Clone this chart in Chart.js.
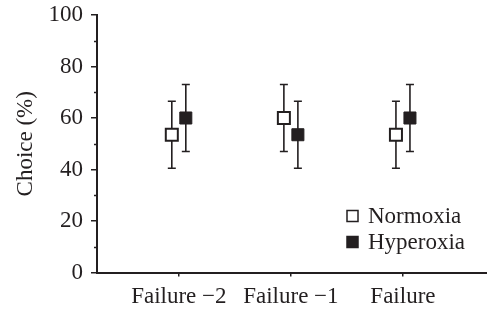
<!DOCTYPE html>
<html>
<head>
<meta charset="utf-8">
<script src="https://cdn.jsdelivr.net/npm/chart.js@4/dist/chart.umd.min.js"></script>
<style>
  html, body { margin: 0; padding: 0; background: #fff; }
  #wrap { width: 487px; height: 312px; }
</style>
</head>
<body>
<div id="wrap"><canvas id="choiceChart"></canvas></div>
<script>
// values
var categories = ['Failure \u22122', 'Failure \u22121', 'Failure'];
var normoxia = [53.5, 60, 53.5];
var normoxiaLow = [40.5, 47, 40.5];
var normoxiaHigh = [66.5, 73, 66.5];
var hyperoxia = [60, 53.5, 60];
var hyperoxiaLow = [47, 40.5, 47];
var hyperoxiaHigh = [73, 66.5, 73];
var yTicks = [0, 20, 40, 60, 80, 100];
var yMinorTicks = [10, 30, 50, 70, 90];

var ink = '#231f20';
var serif = "'Liberation Serif', 'DejaVu Serif', serif";
var shift = 0.0625; // side-by-side offset of the two groups

function points(vals, lo, hi, dx) {
    return vals.map(function (v, i) {
        return { x: i + 1 + dx, y: v, lo: lo[i], hi: hi[i] };
    });
}

var errorBars = {
    id: 'errorBars',
    beforeDatasetsDraw: function (chart) {
        var ctx = chart.ctx, xs = chart.scales.x, ys = chart.scales.y;
        ctx.save();
        ctx.strokeStyle = ink;
        ctx.lineWidth = 1.6;
        chart.data.datasets.forEach(function (ds) {
            ds.data.forEach(function (p) {
                var x = xs.getPixelForValue(p.x);
                var top = ys.getPixelForValue(p.hi), bot = ys.getPixelForValue(p.lo);
                ctx.beginPath();
                ctx.moveTo(x, top); ctx.lineTo(x, bot);
                ctx.moveTo(x - 4, top); ctx.lineTo(x + 4, top);
                ctx.moveTo(x - 4, bot); ctx.lineTo(x + 4, bot);
                ctx.stroke();
            });
        });
        ctx.restore();
    }
};

var extras = {
    id: 'extras',
    afterDraw: function (chart) {
        var ctx = chart.ctx, ys = chart.scales.y;
        var left = chart.chartArea.left;
        ctx.save();
        // minor ticks on y axis
        ctx.strokeStyle = ink;
        ctx.lineWidth = 1.5;
        yMinorTicks.forEach(function (v) {
            var y = Math.round(ys.getPixelForValue(v)) + 0.5;
            ctx.beginPath();
            ctx.moveTo(left - 3, y); ctx.lineTo(left, y);
            ctx.stroke();
        });
        // legend
        ctx.font = '23px ' + serif;
        ctx.textBaseline = 'middle';
        chart.data.datasets.forEach(function (ds, i) {
            var cy = 216 + i * 26;
            ctx.fillStyle = ds.backgroundColor;
            ctx.fillRect(347, cy - 5.5, 11, 11);
            ctx.strokeStyle = ink;
            ctx.lineWidth = 1.5;
            ctx.strokeRect(347, cy - 5.5, 11, 11);
            ctx.fillStyle = ink;
            ctx.fillText(ds.label, 368, cy + 1);
        });
        ctx.restore();
    }
};

var ctxC = document.getElementById('choiceChart').getContext('2d');
var choiceChart = new Chart(ctxC, {
    type: 'scatter',
    data: {
        datasets: [{
            label: 'Normoxia',
            data: points(normoxia, normoxiaLow, normoxiaHigh, -shift),
            pointStyle: 'rect',
            pointRadius: 8.5,
            pointHoverRadius: 8.5,
            backgroundColor: '#ffffff',
            borderColor: ink,
            borderWidth: 2
        }, {
            label: 'Hyperoxia',
            data: points(hyperoxia, hyperoxiaLow, hyperoxiaHigh, shift),
            pointStyle: 'rect',
            pointRadius: 8.5,
            pointHoverRadius: 8.5,
            backgroundColor: ink,
            borderColor: ink,
            borderWidth: 1
        }]
    },
    options: {
        responsive: true,
        maintainAspectRatio: false,
        animation: false,
        layout: { autoPadding: false, padding: { top: 15, right: 0, left: 0, bottom: 0 } },
        plugins: { legend: { display: false }, tooltip: { enabled: false } },
        scales: {
            x: {
                type: 'linear',
                min: 0.27,
                max: 3.75,
                afterBuildTicks: function (scale) {
                    scale.ticks = categories.map(function (c, i) { return { value: i + 1 }; });
                },
                afterFit: function (scale) { scale.height = 39.5; },
                border: { color: ink, width: 2 },
                grid: { drawOnChartArea: false, color: ink, tickLength: 4, lineWidth: 1.5 },
                ticks: {
                    color: ink,
                    padding: 7,
                    maxRotation: 0,
                    autoSkip: false,
                    font: { family: serif, size: 23 },
                    callback: function (v) { return categories[Math.round(v) - 1]; }
                }
            },
            y: {
                min: 0,
                max: 100,
                afterBuildTicks: function (scale) {
                    scale.ticks = yTicks.map(function (v) { return { value: v }; });
                },
                afterFit: function (scale) {
                    scale.width = 97;
                    scale.paddingTop = 0;
                    scale.paddingBottom = 0;
                },
                border: { color: ink, width: 2 },
                grid: { drawOnChartArea: false, color: ink, tickLength: 6, lineWidth: 1.5 },
                ticks: {
                    color: ink,
                    padding: 8,
                    font: { family: serif, size: 23 }
                },
                title: {
                    display: true,
                    text: 'Choice (%)',
                    color: ink,
                    padding: { top: 12 },
                    font: { family: serif, size: 23, weight: 'normal' }
                }
            }
        }
    },
    plugins: [errorBars, extras]
});
</script>
</body>
</html>
